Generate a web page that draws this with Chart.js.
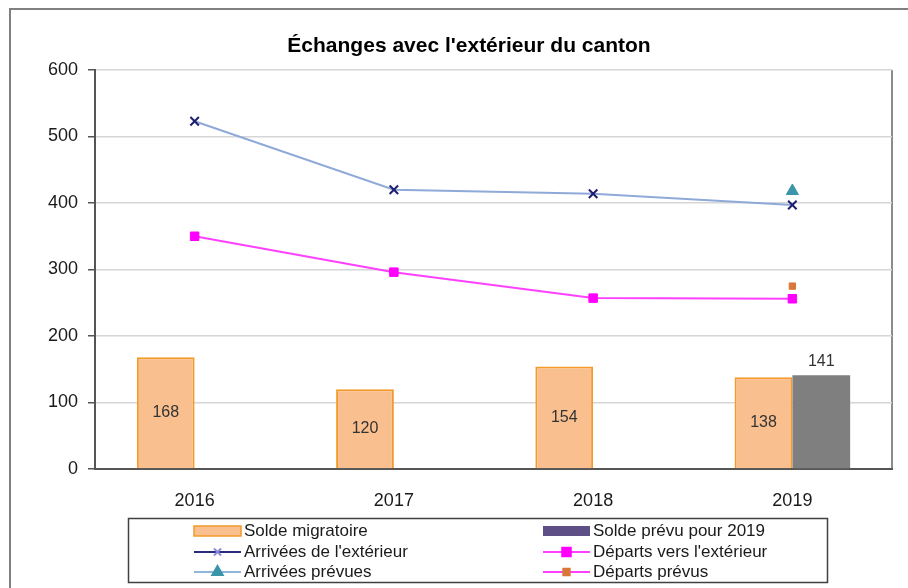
<!DOCTYPE html>
<html>
<head>
<meta charset="utf-8">
<title>Échanges avec l'extérieur du canton</title>
<script src="https://cdn.jsdelivr.net/npm/chart.js@4.4.1/dist/chart.umd.min.js"></script>
<style>
  html, body { margin: 0; padding: 0; background: #fff; }
  #wrap { width: 908px; height: 588px; position: relative; }
</style>
</head>
<body>
<div id="wrap"><canvas id="myChart"></canvas></div>
<script>
// data
let years = ['2016', '2017', '2018', '2019'];
let solde = [168, 120, 154, 138];
let soldePrevu = [null, null, null, 141];
let arrivees = [523, 420, 414, 397];
let departs = [350, 296, 257, 256];
let arriveesPrevues = [null, null, null, 418];
let departsPrevus = [null, null, null, 275];
let yTicks = [0, 100, 200, 300, 400, 500, 600];

let fontFam = "'Liberation Sans', Arial, sans-serif";

// frame, title, value labels and the boxed legend
let extras = {
  id: 'extras',
  beforeDraw(chart) {
    let ctx = chart.ctx;
    let a = chart.chartArea;
    ctx.save();
    ctx.strokeStyle = '#808080';
    ctx.lineWidth = 2;
    ctx.beginPath();
    ctx.moveTo(10, 600);
    ctx.lineTo(10, 9);
    ctx.lineTo(908, 9);
    ctx.stroke();
    // plot area right edge
    ctx.strokeStyle = '#8c8c8c';
    ctx.beginPath();
    ctx.moveTo(a.right, a.top);
    ctx.lineTo(a.right, a.bottom);
    ctx.stroke();
    ctx.fillStyle = '#000';
    ctx.font = "bold 21px " + fontFam;
    ctx.textAlign = 'center';
    ctx.textBaseline = 'middle';
    ctx.fillText("Échanges avec l'extérieur du canton", 469, 46);
    ctx.restore();
  },
  afterDatasetsDraw(chart) {
    let ctx = chart.ctx;
    ctx.save();
    ctx.font = "16px " + fontFam;
    ctx.fillStyle = '#333';
    ctx.textAlign = 'center';
    ctx.textBaseline = 'middle';
    chart.getDatasetMeta(0).data.forEach((bar, i) => {
      if (solde[i] == null) return;
      ctx.fillText(String(solde[i]), bar.x, (bar.y + bar.base) / 2);
    });
    chart.getDatasetMeta(1).data.forEach((bar, i) => {
      if (soldePrevu[i] == null) return;
      ctx.fillText(String(soldePrevu[i]), bar.x, bar.y - 14);
    });
    ctx.restore();
  },
  afterDraw(chart) {
    let ctx = chart.ctx;
    let ds = chart.data.datasets;
    ctx.save();
    ctx.strokeStyle = '#404040';
    ctx.lineWidth = 1.5;
    ctx.strokeRect(128.5, 518.5, 699, 64);
    let cols = [194, 543];
    let rows = [531, 552, 572];
    ctx.font = "17px " + fontFam;
    ctx.textBaseline = 'middle';
    ctx.textAlign = 'left';
    ds.forEach((d, i) => {
      let x = cols[i % 2];
      let y = rows[Math.floor(i / 2)];
      if (d.type === 'bar') {
        ctx.fillStyle = d.legendColor || d.backgroundColor;
        ctx.fillRect(x, y - 5, 47, 10);
        if (d.borderWidth) {
          ctx.strokeStyle = d.borderColor;
          ctx.lineWidth = 1.5;
          ctx.strokeRect(x, y - 5, 47, 10);
        }
      } else {
        ctx.strokeStyle = d.legendLine || d.borderColor;
        ctx.lineWidth = 2;
        ctx.beginPath();
        ctx.moveTo(x, y);
        ctx.lineTo(x + 47, y);
        ctx.stroke();
        ctx.fillStyle = d.legendPoint || d.pointBackgroundColor;
        ctx.strokeStyle = d.legendPoint || d.pointBorderColor;
        Chart.helpers.drawPoint(ctx, {
          pointStyle: d.pointStyle,
          radius: d.legendRadius || d.pointRadius,
          borderWidth: d.pointBorderWidth || 1,
          rotation: 0
        }, x + 23.5, y);
      }
      ctx.fillStyle = '#1a1a1a';
      ctx.fillText(d.label, x + 50, y);
    });
    ctx.restore();
  }
};

let ctx = document.getElementById('myChart').getContext('2d');

let chart = new Chart(ctx, {
  data: {
    labels: years,
    datasets: [
      {
        type: 'bar',
        label: 'Solde migratoire',
        data: solde,
        backgroundColor: '#F9BF8F',
        borderColor: '#F39A2A',
        borderWidth: 2,
        categoryPercentage: 0.58,
        barPercentage: 1,
        order: 2
      },
      {
        type: 'bar',
        label: 'Solde prévu pour 2019',
        data: soldePrevu,
        backgroundColor: '#7f7f7f',
        legendColor: '#5E4F86',
        borderWidth: 0,
        categoryPercentage: 0.58,
        barPercentage: 1,
        order: 2
      },
      {
        type: 'line',
        label: "Arrivées de l'extérieur",
        data: arrivees,
        borderColor: '#8FA9D8',
        borderWidth: 2,
        pointStyle: 'crossRot',
        pointRadius: 6,
        pointBorderWidth: 2,
        pointBorderColor: '#1E1E70',
        pointBackgroundColor: '#1E1E70',
        legendLine: '#2A2A80',
        legendPoint: '#8C8CD8',
        legendRadius: 5,
        order: 1
      },
      {
        type: 'line',
        label: "Départs vers l'extérieur",
        data: departs,
        borderColor: '#FF40FF',
        borderWidth: 2,
        pointStyle: 'rect',
        pointRadius: 6,
        pointBorderWidth: 1,
        pointBorderColor: '#FF00FF',
        pointBackgroundColor: '#FF00FF',
        order: 1
      },
      {
        type: 'line',
        label: 'Arrivées prévues',
        data: arriveesPrevues,
        borderColor: '#8FB5DA',
        borderWidth: 2,
        pointStyle: 'triangle',
        pointRadius: 7,
        pointBorderWidth: 1,
        pointBorderColor: '#3A94AA',
        pointBackgroundColor: '#3A94AA',
        legendRadius: 6,
        order: 1
      },
      {
        type: 'line',
        label: 'Départs prévus',
        data: departsPrevus,
        borderColor: '#FF40FF',
        borderWidth: 2,
        pointStyle: 'rect',
        pointRadius: 4.5,
        pointBorderWidth: 1,
        pointBorderColor: '#D9773A',
        pointBackgroundColor: '#D9773A',
        order: 1
      }
    ]
  },
  options: {
    responsive: true,
    maintainAspectRatio: false,
    animation: false,
    layout: { padding: { left: 10, right: 16, top: 70, bottom: 0 } },
    plugins: {
      legend: { display: false },
      title: { display: false },
      tooltip: { enabled: false }
    },
    scales: {
      x: {
        offset: true,
        grid: { display: false },
        border: { display: true, color: '#555', width: 2 },
        ticks: { color: '#1a1a1a', padding: 13, font: { size: 18, family: fontFam } },
        afterFit(scale) { scale.height = 119; }
      },
      y: {
        min: 0,
        max: 600,
        afterBuildTicks(scale) { scale.ticks = yTicks.map(v => ({ value: v })); },
        grid: { color: '#d6d6d6', lineWidth: 1.5, tickColor: '#555', tickLength: 7 },
        border: { display: true, color: '#555', width: 2 },
        ticks: { color: '#1a1a1a', padding: 10, font: { size: 18, family: fontFam } },
        afterFit(scale) { scale.width = 85; }
      }
    }
  },
  plugins: [extras]
});
</script>
</body>
</html>
